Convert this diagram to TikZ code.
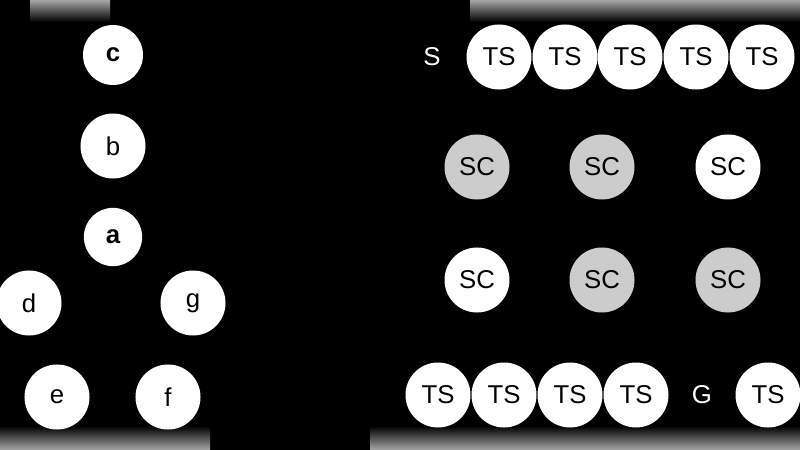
\documentclass[tikz,border=0pt]{standalone}
\usepackage{fontspec}
\setmainfont{Liberation Sans}
\begin{document}
\begin{tikzpicture}[x=0.03cm,y=-0.03cm,
  wc/.style={circle,fill=white,inner sep=0pt,minimum size=1.95cm,font=\fontsize{22}{24}\selectfont},
  gc/.style={wc,fill=gray!40},
  lbl/.style={text=white,font=\fontsize{22}{24}\selectfont}]
\fill[black] (0,0) rectangle (800,450);
\useasboundingbox (0,0) rectangle (800,450);
\shade[top color=gray!70,bottom color=black] (30,0) rectangle (110,22);
\shade[top color=gray!70,bottom color=black] (470,0) rectangle (800,22);
\shade[bottom color=gray!70,top color=black] (0,426) rectangle (210,450);
\shade[bottom color=gray!70,top color=black] (370,426) rectangle (800,450);
\node[wc,minimum size=1.8cm] (c) at (113,55) {\textbf{c}};
\node[wc] (b) at (113,146) {b};
\node[wc,minimum size=1.75cm] (a) at (113,237) {\textbf{a}};
\node[wc] (d) at (29,303) {d};
\node[wc] (g) at (193,303) {g};
\node[wc] (e) at (57,397) {e};
\node[wc] (f) at (168,397) {f};
\node[lbl] (S) at (432,57) {S};
\foreach \x [count=\i] in {499,565,630,696,762} \node[wc] (t\i) at (\x,57) {TS};
\node[gc] (s1) at (477,167) {SC};
\node[gc] (s2) at (602,167) {SC};
\node[wc] (s3) at (728,167) {SC};
\node[wc] (s4) at (477,280) {SC};
\node[gc] (s5) at (602,280) {SC};
\node[gc] (s6) at (728,280) {SC};
\foreach \x [count=\i] in {438,504,570,636} \node[wc] (u\i) at (\x,395) {TS};
\node[lbl] (G) at (702,395) {G};
\node[wc] (u5) at (768,395) {TS};
\end{tikzpicture}
\end{document}
